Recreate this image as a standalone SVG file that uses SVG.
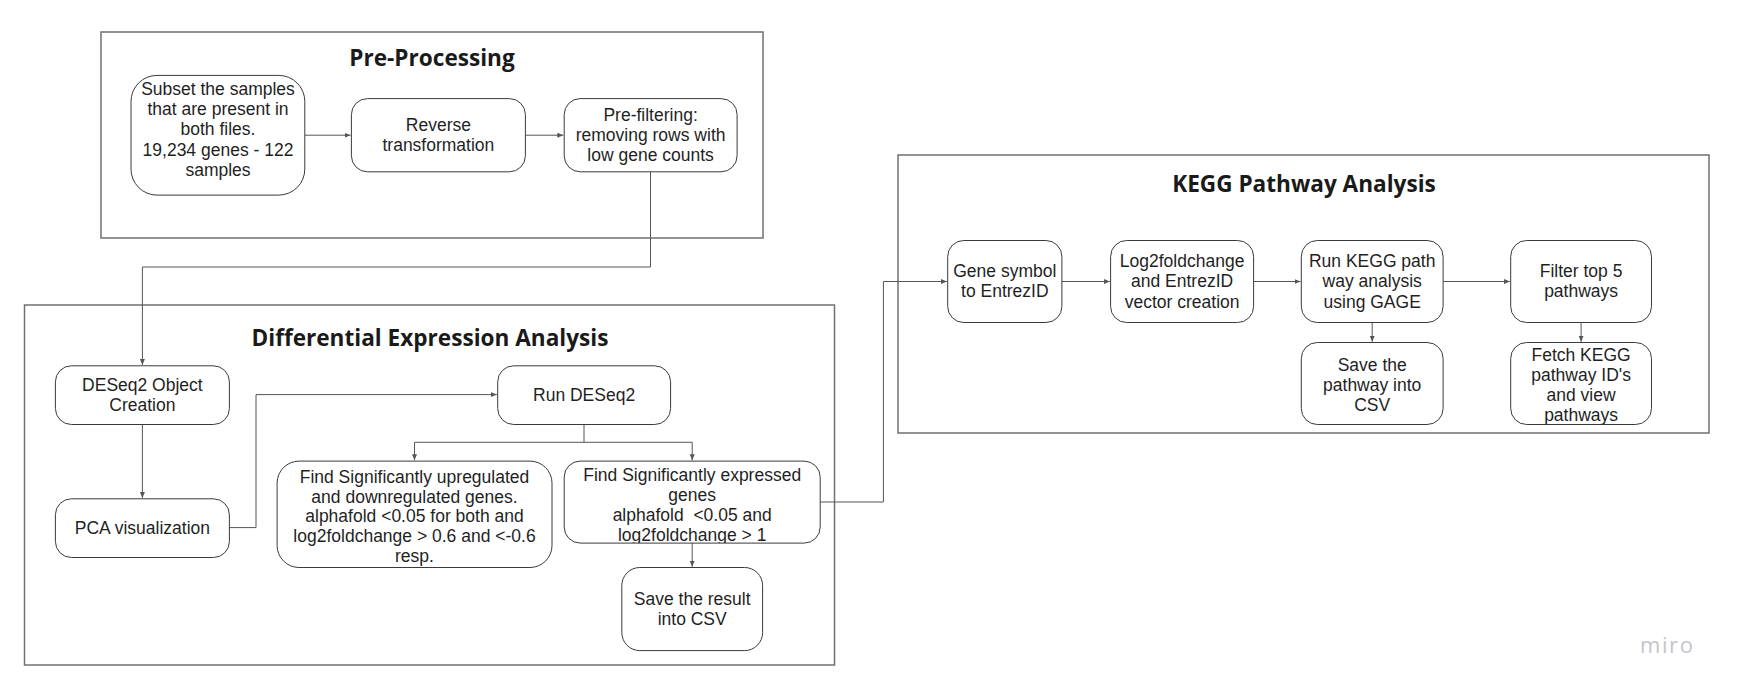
<svg xmlns="http://www.w3.org/2000/svg" width="1738" height="695" viewBox="0 0 1738 695">
<style>
.frame{fill:none;stroke:#707070;stroke-width:1.5}
.node{fill:#ffffff;stroke:#3a3a3a;stroke-width:1}
.t{font-family:"Liberation Sans",Arial,sans-serif;font-size:17.5px;fill:#1f1f1f;text-anchor:middle}
.title{font-family:"Open Sans","Noto Sans",sans-serif;font-weight:bold;font-size:22.6px;fill:#1a1a1a;text-anchor:middle}
.c{fill:none;stroke:#555;stroke-width:1}
.miro{font-family:"Open Sans",Lato,sans-serif;font-size:22px;fill:#c4c4cc;letter-spacing:1.6px}
</style>
<defs>
<marker id="ah" markerWidth="8" markerHeight="8" refX="6" refY="3" orient="auto" markerUnits="userSpaceOnUse">
<path d="M0,0.5 L6,3 L0,5.5 Z" fill="#555"/>
</marker>
<clipPath id="clipExp"><rect x="564.2" y="461.1" width="256" height="82"/></clipPath>
<clipPath id="clipFetch"><rect x="1510.7" y="342.5" width="140.8" height="82"/></clipPath>
</defs>
<rect width="1738" height="695" fill="#ffffff"/>

<g id="frame-preprocessing">
<rect class="frame" x="101" y="32" width="662" height="206"/>
<text class="title" x="432" y="66">Pre-Processing</text>
</g>
<g id="frame-dea">
<rect class="frame" x="24.5" y="305" width="810" height="360"/>
<text class="title" x="430" y="346">Differential Expression Analysis</text>
</g>
<g id="frame-kegg">
<rect class="frame" x="898" y="155" width="811" height="278"/>
<text class="title" x="1304" y="192">KEGG Pathway Analysis</text>
</g>

<g id="connectors">
<line class="c" x1="305" y1="135.2" x2="350.5" y2="135.2" marker-end="url(#ah)"/>
<line class="c" x1="525.4" y1="135.2" x2="563.3" y2="135.2" marker-end="url(#ah)"/>
<polyline class="c" points="650.5,172 650.5,267 142.4,267 142.4,365" marker-end="url(#ah)"/>
<line class="c" x1="142.4" y1="424.5" x2="142.4" y2="498" marker-end="url(#ah)"/>
<polyline class="c" points="229.4,527.6 256,527.6 256,394.6 496.8,394.6" marker-end="url(#ah)"/>
<polyline class="c" points="584,424.5 584,442.3" />
<polyline class="c" points="584,442.3 414.5,442.3 414.5,460.3" marker-end="url(#ah)"/>
<polyline class="c" points="584,442.3 692.2,442.3 692.2,460.3" marker-end="url(#ah)"/>
<line class="c" x1="692.2" y1="543.1" x2="692.2" y2="566.7" marker-end="url(#ah)"/>
<polyline class="c" points="820.2,502 883.4,502 883.4,281.5 946.9,281.5" marker-end="url(#ah)"/>
<line class="c" x1="1061.9" y1="281.5" x2="1109.8" y2="281.5" marker-end="url(#ah)"/>
<line class="c" x1="1253.6" y1="281.5" x2="1300.5" y2="281.5" marker-end="url(#ah)"/>
<line class="c" x1="1443.1" y1="281.5" x2="1509.9" y2="281.5" marker-end="url(#ah)"/>
<line class="c" x1="1372.2" y1="322.5" x2="1372.2" y2="341.7" marker-end="url(#ah)"/>
<line class="c" x1="1581.1" y1="322.5" x2="1581.1" y2="341.7" marker-end="url(#ah)"/>
</g>

<g id="node-subset">
<rect class="node" x="131" y="75.4" width="173.8" height="119.7" rx="26"/>
<text class="t" x="218" y="95">Subset the samples<tspan x="218" dy="20.2">that are present in</tspan><tspan x="218" dy="20.2">both files.</tspan><tspan x="218" dy="20.2">19,234 genes - 122</tspan><tspan x="218" dy="20.2">samples</tspan></text>
</g>
<g id="node-reverse">
<rect class="node" x="351.4" y="98.6" width="174" height="73.2" rx="16"/>
<text class="t" x="438.4" y="131.2">Reverse<tspan x="438.4" dy="20">transformation</tspan></text>
</g>
<g id="node-prefilter">
<rect class="node" x="564.2" y="98.6" width="172.9" height="73.2" rx="16"/>
<text class="t" x="650.6" y="121.3">Pre-filtering:<tspan x="650.6" dy="20">removing rows with</tspan><tspan x="650.6" dy="20">low gene counts</tspan></text>
</g>
<g id="node-deseq-object">
<rect class="node" x="55.4" y="365.8" width="174" height="58.7" rx="16"/>
<text class="t" x="142.4" y="390.6">DESeq2 Object<tspan x="142.4" dy="20">Creation</tspan></text>
</g>
<g id="node-pca">
<rect class="node" x="55.4" y="498.8" width="174" height="58.7" rx="16"/>
<text class="t" x="142.4" y="534">PCA visualization</text>
</g>
<g id="node-run-deseq">
<rect class="node" x="497.7" y="365.8" width="172.9" height="58.7" rx="16"/>
<text class="t" x="584.1" y="401">Run DESeq2</text>
</g>
<g id="node-updown">
<rect class="node" x="277.1" y="461.1" width="274.9" height="106.4" rx="22"/>
<text class="t" x="414.5" y="482.8">Find Significantly upregulated<tspan x="414.5" dy="19.7">and downregulated genes.</tspan><tspan x="414.5" dy="19.7">alphafold &lt;0.05 for both and</tspan><tspan x="414.5" dy="19.7">log2foldchange &gt; 0.6 and &lt;-0.6</tspan><tspan x="414.5" dy="19.7">resp.</tspan></text>
</g>
<g id="node-expressed">
<rect class="node" x="564.2" y="461.1" width="256" height="82" rx="16"/>
<text class="t" x="692.2" y="480.5" clip-path="url(#clipExp)">Find Significantly expressed<tspan x="692.2" dy="20">genes</tspan><tspan x="692.2" dy="20" xml:space="preserve">alphafold  &lt;0.05 and</tspan><tspan x="692.2" dy="20">log2foldchange &gt; 1</tspan></text>
</g>
<g id="node-save-result">
<rect class="node" x="621.8" y="567.5" width="140.8" height="83.1" rx="18"/>
<text class="t" x="692.2" y="604.8">Save the result<tspan x="692.2" dy="20">into CSV</tspan></text>
</g>
<g id="node-gene-symbol">
<rect class="node" x="947.7" y="240.5" width="114.2" height="82" rx="16"/>
<text class="t" x="1004.8" y="276.8">Gene symbol<tspan x="1004.8" dy="20.5">to EntrezID</tspan></text>
</g>
<g id="node-log2">
<rect class="node" x="1110.6" y="240.5" width="143" height="82" rx="16"/>
<text class="t" x="1182.1" y="266.8">Log2foldchange<tspan x="1182.1" dy="20.5">and EntrezID</tspan><tspan x="1182.1" dy="20.5">vector creation</tspan></text>
</g>
<g id="node-run-kegg">
<rect class="node" x="1301.3" y="240.5" width="141.8" height="82" rx="16"/>
<text class="t" x="1372.2" y="266.8">Run KEGG path<tspan x="1372.2" dy="20.5">way analysis</tspan><tspan x="1372.2" dy="20.5">using GAGE</tspan></text>
</g>
<g id="node-filter">
<rect class="node" x="1510.7" y="240.5" width="140.8" height="82" rx="16"/>
<text class="t" x="1581.1" y="276.8">Filter top 5<tspan x="1581.1" dy="20.5">pathways</tspan></text>
</g>
<g id="node-save-pathway">
<rect class="node" x="1301.3" y="342.5" width="141.8" height="82" rx="16"/>
<text class="t" x="1372.2" y="371">Save the<tspan x="1372.2" dy="20">pathway into</tspan><tspan x="1372.2" dy="20">CSV</tspan></text>
</g>
<g id="node-fetch">
<rect class="node" x="1510.7" y="342.5" width="140.8" height="82" rx="16"/>
<text class="t" x="1581.1" y="361" clip-path="url(#clipFetch)">Fetch KEGG<tspan x="1581.1" dy="20">pathway ID's</tspan><tspan x="1581.1" dy="20">and view</tspan><tspan x="1581.1" dy="20">pathways</tspan></text>
</g>

<text class="miro" x="1640" y="653">miro</text>
</svg>
